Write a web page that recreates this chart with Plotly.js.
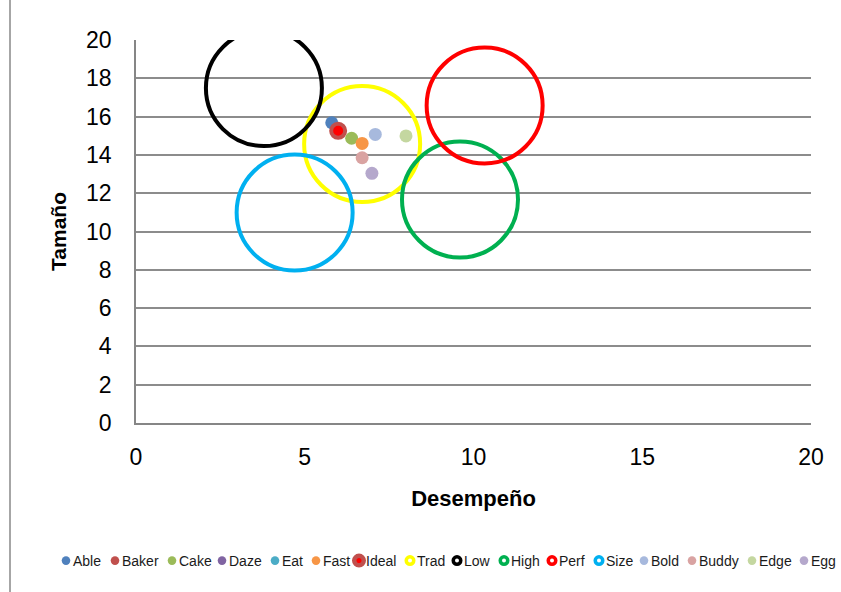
<!DOCTYPE html>
<html>
<head>
<meta charset="utf-8">
<script src="https://cdn.plot.ly/plotly-3.0.1.min.js"></script>
<style>
html,body{margin:0;padding:0;background:#fff;}
#chart{width:841px;height:592px;}
/* legend labels (classes legendtext, legend2text, ...): bring them close to the symbol as in the reference */
#chart .infolayer text[class^="legend"][class$="text"]{transform:translate(-13px,0px);}
/* legend symbols: small dots */
#chart .legendpoints .scatterpts{transform:translate(20px,0px) scale(0.66);}
/* Ideal: red dot inside a brick-red ring */
#chart g.legend7 .legendpoints .scatterpts{transform:translate(20px,0px) scale(0.68);stroke-width:6.6px !important;}
/* big rings: thick ring with a small white hole */
#chart g.legend8 .legendpoints .scatterpts,
#chart g.legend9 .legendpoints .scatterpts,
#chart g.legend10 .legendpoints .scatterpts,
#chart g.legend11 .legendpoints .scatterpts,
#chart g.legend12 .legendpoints .scatterpts{transform:translate(20px,0px) scale(0.47);stroke-width:7.5px !important;fill:#ffffff !important;fill-opacity:1 !important;}
</style>
</head>
<body>
<div id="chart"></div>
<script>
// Data
const seriesNames = ['Able','Baker','Cake','Daze','Eat','Fast','Ideal','Trad','Low','High','Perf','Size','Bold','Buddy','Edge','Egg'];
const desempeno = [5.80, 6.00, 6.39, 6.00, 6.00, 6.70, 5.99, 6.70, 3.79, 9.60, 10.33, 4.70, 7.09, 6.70, 8.00, 6.99];
const tamano    = [15.68, 15.26, 14.87, 15.26, 15.26, 14.60, 15.26, 14.57, 17.49, 11.67, 16.58, 10.99, 15.07, 13.85, 14.99, 13.04];
const xTickVals = [0, 5, 10, 15, 20];
const yTickVals = [0, 2, 4, 6, 8, 10, 12, 14, 16, 18, 20];

// Styles (not data)
const colors = ['#4F81BD','#C0504D','#9BBB59','#8064A2','#4BACC6','#F79646','#FF0000','#FFFF00','#000000','#00B050','#FF0000','#00B0F0','#A7B9DD','#D9A3A2','#C4D7A0','#B5A8CC'];
const kinds  = ['dot','dot','dot','dot','dot','dot','ideal','ring','ring','ring','ring','ring','dot','dot','dot','dot'];
// legend symbol centres (px, from the left of the page) measured on the reference
const legendSymbolX = [66, 115, 172, 222, 275, 316, 359, 410, 457, 504, 552, 599, 644, 692, 752, 804];
const LEGEND_Y = 561;

const FONT = 'Liberation Sans, Arial, sans-serif';
const W = 841, H = 592, L = 136, R = 30, T = 40, B = 169;
const pw = W - L - R, ph = H - T - B;

const legendId = i => (i === 0 ? 'legend' : 'legend' + (i + 1));

const traces = seriesNames.map((name, i) => {
  let marker;
  if (kinds[i] === 'ring') {
    marker = {symbol: 'circle', size: 116, color: 'rgba(255,255,255,0)', line: {color: colors[i], width: 4}};
  } else if (kinds[i] === 'ideal') {
    marker = {symbol: 'circle', size: 14, color: colors[i], line: {color: '#C0504D', width: 4}};
  } else {
    marker = {symbol: 'circle', size: 13, color: colors[i], line: {width: 0}};
  }
  return {
    type: 'scatter', mode: 'markers', name: name, legend: legendId(i),
    x: [desempeno[i]], y: [tamano[i]],
    marker: marker, cliponaxis: true,
    hovertemplate: name + '<br>Desempeño: %{x}<br>Tamaño: %{y}<extra></extra>'
  };
});

const layout = {
  width: W, height: H,
  margin: {l: L, r: R, t: T, b: B, pad: 0, autoexpand: false},
  paper_bgcolor: '#ffffff', plot_bgcolor: '#ffffff',
  font: {family: FONT, color: '#000000'},
  showlegend: true,
  xaxis: {
    range: [0, 20], tickvals: xTickVals, ticktext: xTickVals.map(String), automargin: false,
    showgrid: false, zeroline: false, showline: true, linecolor: '#868686', linewidth: 1.5,
    ticks: '', tickfont: {family: FONT, size: 23, color: '#000'}, ticklabelstandoff: 13,
    title: {text: 'Desempeño', font: {family: FONT, size: 22, color: '#000', weight: 'bold'}, standoff: 21},
    fixedrange: true
  },
  yaxis: {
    range: [0, 20], tickvals: yTickVals, ticktext: yTickVals.map(String), automargin: false,
    showgrid: true, gridcolor: '#8c8c8c', gridwidth: 1.5, zeroline: false,
    showline: true, linecolor: '#868686', linewidth: 1.5,
    ticks: '', tickfont: {family: FONT, size: 23, color: '#000'}, ticklabelstandoff: 18,
    title: {text: 'Tamaño', font: {family: FONT, size: 21, color: '#000', weight: 'bold'}, standoff: 14},
    fixedrange: true
  },
  shapes: [{
    type: 'line', xref: 'paper', yref: 'paper',
    x0: (10 - L) / pw, x1: (10 - L) / pw, y0: (T + ph - 0) / ph, y1: (T + ph - H) / ph,
    line: {color: '#a6a6a6', width: 2}
  }]
};

// one single-entry legend per series, laid out in one row like the reference
seriesNames.forEach((name, i) => {
  layout[legendId(i)] = {
    xref: 'container', yref: 'container',
    x: (legendSymbolX[i] - 20) / W, xanchor: 'left',
    y: 1 - LEGEND_Y / H, yanchor: 'middle',
    orientation: 'h', itemsizing: 'trace', itemwidth: 30,
    font: {family: FONT, size: 14, color: '#1a1a1a'},
    bgcolor: 'rgba(0,0,0,0)', borderwidth: 0
  };
});

Plotly.newPlot('chart', traces, layout, {displayModeBar: false});
</script>
</body>
</html>
